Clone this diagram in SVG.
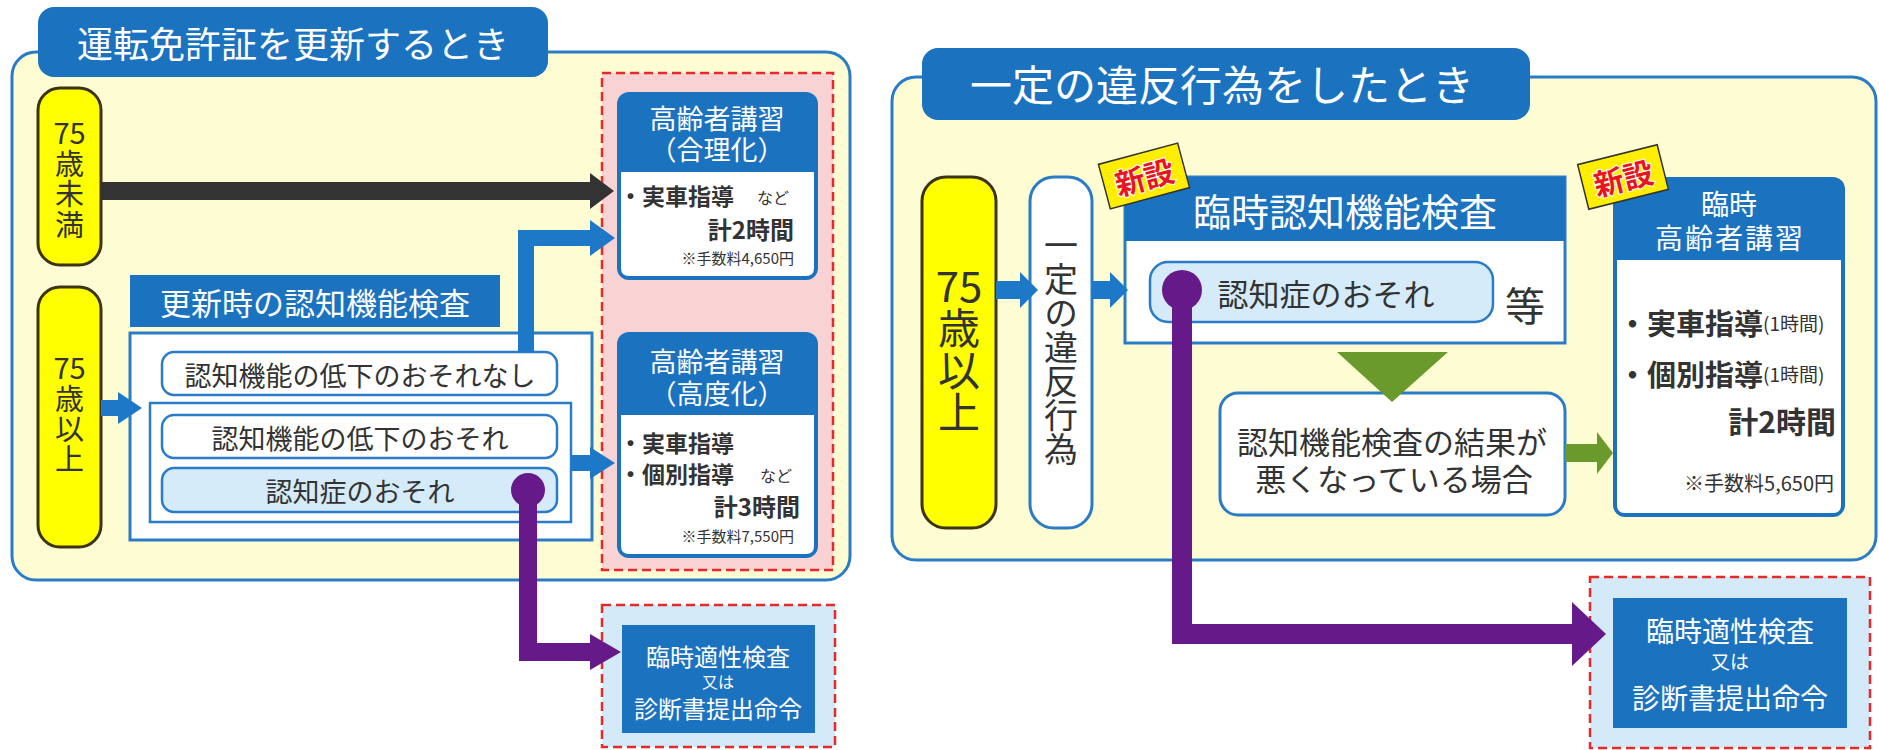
<svg xmlns="http://www.w3.org/2000/svg" width="1879" height="750" viewBox="0 0 1879 750">
<style>
text{font-family:"Noto Sans CJK JP","Noto Sans",sans-serif;dominant-baseline:central}
.v{writing-mode:vertical-rl;text-anchor:middle}
.w{fill:#fff}
.d{fill:#333}
.c{text-anchor:middle}
.e{text-anchor:end}
.b{font-weight:bold}
.panel{fill:#fefcd2;stroke:#2a7cc6;stroke-width:3}
.tab{fill:#1b72bf}
.blue{fill:#1b72bf}
.box{fill:#fff;stroke:#2a7cc6;stroke-width:3}
.pill{fill:#fff;stroke:#2a7cc6;stroke-width:2.5}
.pillb{fill:#d5ebfa;stroke:#2a7cc6;stroke-width:2.5}
.yel{fill:#ffff00;stroke:#3c3414;stroke-width:3}
.dash{stroke:#e42a2a;stroke-width:2.5;stroke-dasharray:9 5}
.ba{fill:#1e78c8}
.pa{fill:#661a8a}
.ga{fill:#6b9a2c}
.badge rect{fill:#ffee00;stroke:#333;stroke-width:1.5}
.badge text{fill:#e8141e;font-weight:bold;font-size:30px;text-anchor:middle;stroke:#fff;stroke-width:2;paint-order:stroke}
</style>

<!-- LEFT PANEL -->
<g id="left-panel">
<rect class="panel" x="12" y="52" width="838" height="528" rx="24"/>
<rect class="tab" x="38" y="7" width="510" height="70" rx="16"/>
<text class="w c" x="293" y="42" font-size="36">運転免許証を更新するとき</text>
</g>

<g id="left-course-area">
<rect class="dash" fill="#f9d3d3" x="602" y="73" width="231" height="497"/>
</g>

<g id="under75">
<rect class="yel" x="38" y="88" width="63" height="177" rx="22"/>
<text class="d c" font-size="29" x="69.5" y="131">75</text>
<text class="d v" font-size="29" letter-spacing="1.5" x="69.5" y="195">歳未満</text>
</g>

<g id="over75-left">
<rect class="yel" x="38" y="287" width="63" height="260" rx="22"/>
<text class="d c" font-size="29" x="69.5" y="366">75</text>
<text class="d v" font-size="29" letter-spacing="1" x="69.5" y="429">歳以上</text>
</g>

<g id="renewal-test">
<rect class="blue" x="130" y="275" width="370" height="52"/>
<text class="w c" x="315" y="301" font-size="31">更新時の認知機能検査</text>
<rect class="box" x="130" y="333" width="462" height="207"/>
</g>

<g id="no-risk">
<rect class="pill" x="162" y="352" width="395" height="43" rx="12"/>
<text class="d c" x="360" y="374" font-size="27">認知機能の低下のおそれなし</text>
</g>

<g id="risk-group">
<rect class="pill" x="150" y="403" width="421" height="119"/>
</g>

<g id="risk">
<rect class="pill" x="162" y="415" width="395" height="43" rx="12"/>
<text class="d c" x="360" y="437" font-size="27">認知機能の低下のおそれ</text>
</g>

<g id="dementia-left">
<rect class="pillb" x="162" y="468" width="395" height="44" rx="12"/>
<text class="d c" x="360" y="490" font-size="27">認知症のおそれ</text>
</g>

<g id="course-rational">
<rect class="blue" x="617" y="92" width="201" height="188" rx="12"/>
<path fill="#fff" d="M621,172 H814 V268 Q814,276 806,276 H629 Q621,276 621,268 Z"/>
<text class="w c" font-size="27"><tspan x="717" y="117">高齢者講習</tspan><tspan x="717" y="148">（合理化）</tspan></text>
<text class="d b" x="619" y="195" font-size="23">・実車指導</text>
<text class="d" x="757" y="197" font-size="16">など</text>
<text class="d e b" x="794" y="228" font-size="24">計2時間</text>
<text class="d e" x="794" y="257" font-size="15">※手数料4,650円</text>
</g>

<g id="course-advanced">
<rect class="blue" x="617" y="332" width="201" height="226" rx="12"/>
<path fill="#fff" d="M621,415 H814 V546 Q814,554 806,554 H629 Q621,554 621,546 Z"/>
<text class="w c" font-size="27"><tspan x="717" y="360">高齢者講習</tspan><tspan x="717" y="392">（高度化）</tspan></text>
<text class="d b" x="619" y="442" font-size="23">・実車指導</text>
<text class="d b" x="619" y="473" font-size="23">・個別指導</text>
<text class="d" x="760" y="475" font-size="16">など</text>
<text class="d e b" x="800" y="505" font-size="24">計3時間</text>
<text class="d e" x="794" y="535" font-size="15">※手数料7,550円</text>
</g>

<g id="aptitude-left">
<rect class="dash" fill="#d4eaf8" x="602" y="605" width="233" height="142"/>
<rect class="blue" x="622" y="625" width="193" height="108"/>
<text class="w c" x="718" y="655" font-size="24">臨時適性検査</text>
<text class="w c" x="718" y="681" font-size="16">又は</text>
<text class="w c" x="718" y="707" font-size="24">診断書提出命令</text>
</g>

<!-- RIGHT PANEL -->
<g id="right-panel">
<rect class="panel" x="892" y="77" width="984" height="483" rx="24"/>
<rect class="tab" x="922" y="48" width="608" height="72" rx="16"/>
<text class="w c" x="1222" y="82" font-size="42">一定の違反行為をしたとき</text>
</g>

<g id="over75-right">
<rect class="yel" x="922" y="177" width="74" height="351" rx="24"/>
<text class="d c" font-size="42" x="959" y="283">75</text>
<text class="d v" font-size="42" x="959" y="370">歳以上</text>
</g>

<g id="violation">
<rect class="box" x="1030" y="177" width="62" height="351" rx="24"/>
<text class="d v" font-size="34" x="1061" y="347">一定の違反行為</text>
</g>

<g id="temp-test">
<rect class="box" x="1125" y="177" width="440" height="166"/>
<rect class="blue" x="1125" y="177" width="440" height="64"/>
<text class="w c" x="1345" y="209" font-size="38">臨時認知機能検査</text>
<rect class="pillb" stroke-width="3" x="1150" y="262" width="343" height="60" rx="18"/>
<text class="d c" x="1326" y="292" font-size="31">認知症のおそれ</text>
<text class="d c" x="1525" y="304" font-size="40">等</text>
</g>

<g id="badge-1" class="badge" transform="translate(1144,176) rotate(-15)">
<rect x="-41" y="-23" width="82" height="46"/>
<text x="0" y="0">新設</text>
</g>

<g id="result-worse">
<rect class="box" x="1220" y="393" width="345" height="122" rx="18"/>
<text class="d c" font-size="31"><tspan x="1392" y="440">認知機能検査の結果が</tspan><tspan x="1394" y="477">悪くなっている場合</tspan></text>
</g>

<g id="temp-course">
<rect class="blue" x="1613" y="177" width="232" height="340" rx="12"/>
<path fill="#fff" d="M1617,260 H1841 V505 Q1841,513 1833,513 H1625 Q1617,513 1617,505 Z"/>
<text class="w c" x="1729" y="203" font-size="28">臨時</text>
<text class="w c" x="1730" y="237" font-size="28" letter-spacing="2">高齢者講習</text>
<text class="d b" x="1618" y="322" font-size="29">・実車指導<tspan font-size="19" font-weight="normal">(1時間)</tspan></text>
<text class="d b" x="1618" y="373" font-size="29">・個別指導<tspan font-size="19" font-weight="normal">(1時間)</tspan></text>
<text class="d e b" x="1836" y="420" font-size="30">計2時間</text>
<text class="d e" x="1834" y="482" font-size="20">※手数料5,650円</text>
</g>

<g id="badge-2" class="badge" transform="translate(1623,177) rotate(-14)">
<rect x="-41" y="-23" width="82" height="46"/>
<text x="0" y="0">新設</text>
</g>

<g id="aptitude-right">
<rect class="dash" fill="#d4eaf8" x="1590" y="577" width="280" height="171"/>
<rect class="blue" x="1613" y="598" width="234" height="130"/>
<text class="w c" x="1730" y="630" font-size="28">臨時適性検査</text>
<text class="w c" x="1730" y="660" font-size="19">又は</text>
<text class="w c" x="1730" y="697" font-size="28">診断書提出命令</text>
</g>

<!-- CONNECTORS -->
<g id="connectors">
<path fill="#333" d="M101,182 H590 V173 L614,191 L590,209 V200 H101 Z"/>
<path class="ba" d="M518,352 V230 H590 V220 L615,238 L590,256 V246 H534 V352 Z"/>
<path class="ba" d="M101,400 H118 V392 L142,408 L118,424 V416 H101 Z"/>
<path class="ba" d="M571,455 H590 V447 L615,463 L590,479 V471 H571 Z"/>
<circle class="pa" cx="528" cy="490" r="17"/>
<path class="pa" d="M519,490 V661 H590 V670 L621,652 L590,634 V643 H537 V490 Z"/>
<path class="ba" d="M996,281 H1020 V272 L1038,290 L1020,308 V299 H996 Z"/>
<path class="ba" d="M1092,281 H1110 V272 L1128,290 L1110,308 V299 H1092 Z"/>
<polygon class="ga" points="1337,352 1448,352 1392,402"/>
<path class="ga" d="M1565,444 H1597 V432 L1613,453 L1597,474 V462 H1565 Z"/>
<circle class="pa" cx="1182" cy="290" r="20"/>
<path class="pa" d="M1172,290 V644 H1572 V666 L1606,634 L1572,602 V624 H1192 V290 Z"/>
</g>
</svg>
